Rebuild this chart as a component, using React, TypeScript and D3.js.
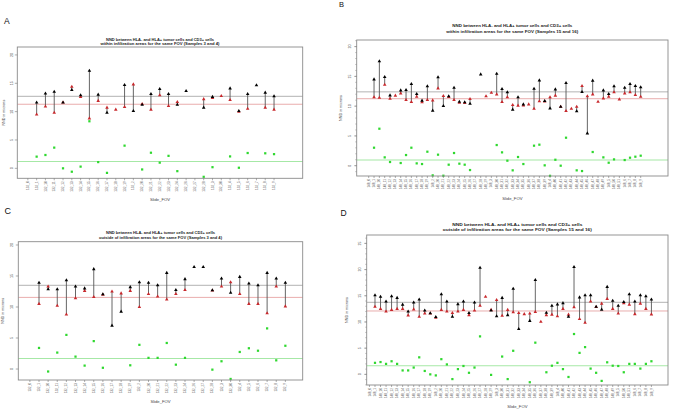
import React from "react";
import * as d3 from "d3";

const FONT = "'Liberation Sans', Arial, Helvetica, sans-serif";

// ---------- Panel A / C categories ----------
const labels132 = ["132_0","132_1","132_10","132_11","132_12","132_13","132_14","132_15","132_16","132_17","132_18","132_19","132_2","132_20","132_21","132_22","132_23","132_24","132_26","132_27","132_28","132_3","132_30","132_4","132_5","132_6","132_7","132_8","132_9"];

// ---------- Panel B / D categories ----------
const labels148 = ["148_0","148_1","148_10","148_11","148_12","148_13","148_14","148_15","148_16","148_17","148_18","148_19","148_2","148_20","148_21","148_22","148_23","148_24","148_25","148_26","148_27","148_28","148_29","148_3","148_30","148_31","148_32","148_33","148_34","148_35","148_36","148_37","148_38","148_39","148_4","148_40","148_41","148_42","148_43","148_44","148_45","148_46","148_47","148_48","148_49","148_5","148_50","148_51","148_6","148_7","148_8","148_9"];

// ---------- Panel A: within infiltration, samples 3 and 4 ----------
const hlaNegA = [null, 11.6, 13.2, 13.5, 11.6, 13.8, 12.9, 17.2, 13.0, 9.8, null, 14.7, 10.1, 11.2, 13.1, 14.0, 13.1, 11.2, 13.65, null, 10.7, 12.6, null, 14.1, 10.1, 13.1, 14.65, 13.35, 12.7];
const hlaPosA = [null, 9.5, 10.9, 9.8, 11.6, 14.4, 12.6, 8.8, 11.9, 10.7, 10.35, 10.8, 14.8, 11.35, 10.35, 12.9, 11.0, 11.7, null, null, 12.2, 12.4, 12.75, 12.05, 10.0, 10.5, null, 10.7, 10.35];
const diffA = [null, 2.06, 2.35, 3.65, 0.0, -0.6, 0.3, 8.3, 1.1, -0.8, null, 4.0, null, -0.2, 2.75, 1.0, 2.2, -0.5, null, null, -1.5, 0.2, null, 2.1, 0.1, 2.7, null, 2.65, 2.5];
const meansA = [12.7, 11.3, 1.2];

// ---------- Panel B: within infiltration, samples 15 and 16 ----------
const hlaNegB = [null, 14.5, 17.53, 14.89, 11.81, null, 12.65, 12.71, 13.72, 12.04, 10.92, 13.33, 9.24, 14.84, 10.02, 11.65, 13.1, 10.75, 10.64, 10.41, null, 15.34, null, null, 15.45, 12.88, 12.32, 9.41, 11.48, 10.3, null, 12.93, 14.33, 10.86, 9.63, 12.82, 9.91, 13.89, null, 9.13, 12.37, 5.43, 14.28, null, 12.65, 12.04, 13.33, null, 13.1, 13.72, 13.38, 13.16];
const hlaPosB = [null, 11.48, 11.42, 13.6, 11.25, 11.76, 12.15, 11.03, 10.69, 11.59, 10.64, 11.03, 10.97, 12.99, 11.7, 11.53, 11.03, 10.58, 10.53, 11.2, null, null, 11.65, 12.26, 11.98, 10.69, 11.48, 10.19, 10.08, 10.13, 10.3, 9.57, 10.81, 10.8, 11.48, 11.76, 9.9, 9.18, 9.57, 9.91, 13.38, 11.65, 11.98, 10.75, 11.31, 11.59, 12.32, 11.14, 12.15, 12.32, 11.87, 11.59];
const diffB = [null, 3.02, 6.21, 1.4, 0.62, null, 0.45, 1.79, 3.02, 0.39, 0.28, 2.35, -1.62, 1.85, -1.68, 0.17, 2.13, 0.34, 0.17, -0.73, null, null, null, null, 3.47, 2.24, 0.84, -0.78, 1.46, 0.28, null, 3.36, 3.53, 0.06, -1.7, 1.0, 0.0, 4.7, null, -0.78, -0.9, null, 2.3, null, 1.4, 0.5, 1.06, null, 0.95, 1.34, 1.51, 1.68];
const meansB = [12.4, 11.25, 0.95];

// ---------- Panel C: outside infiltration, samples 3 and 4 ----------
const hlaNegC = [null, 13.9, 12.85, 12.85, 14.3, 13.3, 13.0, 16.1, 12.05, 7.0, 9.25, 13.2, 14.0, 13.9, 13.5, 15.5, 12.75, 14.5, 16.45, 16.45, 12.7, 14.6, 12.3, 14.85, 13.8, 13.5, 15.5, 14.6, 13.9];
const hlaPosC = [null, 10.5, 13.3, 10.2, 8.8, 11.4, 12.6, 11.6, 12.0, 12.5, 12.2, 12.6, 10.0, 12.1, 11.7, 11.2, 12.1, 12.75, null, null, 12.65, 13.3, 14.0, 12.1, 10.5, 10.5, 9.0, 13.3, 10.1];
const diffC = [null, 3.4, -0.4, 2.65, 5.5, 2.0, 0.55, 4.5, 0.2, null, null, 0.6, 3.9, 1.8, 1.8, 4.2, 0.7, 1.8, null, null, -0.1, 1.25, -1.6, 2.75, 3.35, 2.95, 6.55, 1.4, 3.75];
const meansC = [13.5, 11.55, 1.7];

// ---------- Panel D: outside infiltration, samples 15 and 16 ----------
const hlaNegD = [null, 15.1, 14.8, 13.9, 14.9, 14.6, 13.3, 12.0, 13.7, 14.3, 12.2, 11.65, 10.95, 15.3, 13.9, 11.0, 13.4, 13.9, 11.7, 13.7, 20.35, null, 12.2, 11.1, 14.6, 11.3, 16.35, 8.65, null, 10.2, 18.0, null, 11.75, 13.1, 13.35, 13.6, 11.0, 20.5, 14.7, 15.1, 15.1, 12.9, 12.35, 16.7, 14.05, 13.1, 13.8, 15.3, 13.9, 15.1, 14.9, 14.3];
const hlaPosD = [null, 12.9, 12.5, 12.0, 12.3, 12.5, 12.5, 11.25, 12.4, 11.0, 11.6, 11.6, 10.8, 12.3, 12.0, 11.7, 12.0, 12.3, 11.3, 12.2, 13.1, 14.8, 12.3, 14.2, 11.2, 12.3, 11.85, 11.7, 11.5, 11.6, 11.9, 10.05, 11.3, 11.4, 11.1, 12.5, 11.4, 12.8, 10.55, 9.85, 13.9, 12.85, 13.5, 14.4, 12.5, 11.6, 13.6, 13.3, 11.5, 13.5, 12.5, 11.45];
const diffD = [null, 2.2, 2.35, 2.0, 2.5, 2.0, 0.75, 0.75, 1.3, 3.25, 0.65, 0.0, -0.2, 2.9, 1.9, -0.9, 1.0, 1.6, 0.3, 1.3, 7.25, null, -0.1, null, 3.4, -0.9, 4.5, null, null, -1.5, 6.05, null, 0.4, 1.65, 2.2, 1.0, -0.5, 7.7, 4.1, 5.2, 1.1, 0.3, -1.25, 2.3, 1.65, 1.6, 0.4, 2.0, 2.0, 1.1, 2.0, 2.5];
const meansD = [13.75, 12.1, 1.65];

const yTicks20 = [0, 5, 10, 15, 20];
const yTicks25 = [0, 5, 10, 15, 20, 25];

const titleLine1 = "NND between HLA- and HLA+ tumor cells and CD3+ cells";
const titleWithin34 = "within infiltration areas for the same FOV (Samples 3 and 4)";
const titleWithin1516 = "within infiltration areas for the same FOV (Samples 15 and 16)";
const titleOutside34 = "outside of infiltration areas for the same FOV (Samples 3 and 4)";
const titleOutside1516 = "outside of infiltration areas for the same FOV (Samples 15 and 16)";

type Num = number | null;

interface PanelProps {
  letter: string;
  letterX: number;
  letterY: number;
  letterSize: number;
  title: [string, string];
  titleY: [number, number];
  titleW: [number, number];
  titleSize: number;
  box: [number, number, number, number]; // x0, x1, y0(top), y1(bottom)
  yDomain: [number, number];
  xDomain: [number, number];
  labels: string[];
  neg: Num[];
  pos: Num[];
  diff: Num[];
  means: number[];
  yTicks: number[];
  minor: boolean;
  yTickLabelX: number;
  yLabelX: number;
  xLabelY: number;
}

const triangle = d3.symbol().type(d3.symbolTriangle).size(5.5)()!;
const square = d3.symbol().type(d3.symbolSquare).size(5)()!;

function Panel(p: PanelProps) {
  const [x0, x1, y0, y1] = p.box;
  const x = d3.scaleLinear().domain(p.xDomain).range([x0, x1]);
  const y = d3.scaleLinear().domain(p.yDomain).range([y1, y0]);
  const cx = (x0 + x1) / 2;
  const idx = d3.range(p.labels.length);
  const minorTicks = p.minor ? d3.range(Math.ceil(p.yDomain[0]), Math.floor(p.yDomain[1]) + 1) : [];
  const inY = (v: number) => v >= p.yDomain[0] && v <= p.yDomain[1];
  return (
    <g>
      <text x={p.letterX} y={p.letterY} fontSize={p.letterSize} fontFamily={FONT} fill="#111">{p.letter}</text>
      {p.title.map((t, k) => (
        <text key={k} x={cx} y={p.titleY[k]} fontSize={p.titleSize} fontWeight="bold" fontFamily={FONT}
          textAnchor="middle" fill="#222" textLength={p.titleW[k]} lengthAdjust="spacingAndGlyphs">{t}</text>
      ))}
      {/* mean lines */}
      <line x1={x0} x2={x1} y1={y(p.means[0])} y2={y(p.means[0])} stroke="#a0a0a0" strokeWidth={0.8} />
      <line x1={x0} x2={x1} y1={y(p.means[1])} y2={y(p.means[1])} stroke="#e6a4a4" strokeWidth={0.9} />
      <line x1={x0} x2={x1} y1={y(p.means[2])} y2={y(p.means[2])} stroke="#a6e8a6" strokeWidth={1.1} />
      {/* segments */}
      {idx.map((i) => {
        const a = p.neg[i];
        const b = p.pos[i];
        if (a == null || b == null) return null;
        return <line key={"s" + i} x1={x(i)} x2={x(i)} y1={y(a)} y2={y(b)} stroke="#555" strokeWidth={0.9} />;
      })}
      {/* markers */}
      {idx.map((i) => {
        const v = p.pos[i];
        if (v == null || !inY(v)) return null;
        return <path key={"r" + i} d={triangle} transform={`translate(${x(i)},${y(v)})`} fill="#c8282c" />;
      })}
      {idx.map((i) => {
        const v = p.neg[i];
        if (v == null || !inY(v)) return null;
        return <path key={"b" + i} d={triangle} transform={`translate(${x(i)},${y(v)})`} fill="#000" />;
      })}
      {idx.map((i) => {
        const v = p.diff[i];
        if (v == null || !inY(v)) return null;
        return <path key={"g" + i} d={square} transform={`translate(${x(i)},${y(v)})`} fill="#2fd82f" />;
      })}
      {/* box */}
      <rect x={x0} y={y0} width={x1 - x0} height={y1 - y0} fill="none" stroke="#8a8a8a" strokeWidth={0.9} />
      {/* y axis */}
      {minorTicks.map((t) => (
        <line key={"m" + t} x1={x0 - 1.5} x2={x0} y1={y(t)} y2={y(t)} stroke="#888" strokeWidth={0.5} />
      ))}
      {p.yTicks.map((t) => (
        <g key={"y" + t}>
          <line x1={x0 - 2.5} x2={x0} y1={y(t)} y2={y(t)} stroke="#777" strokeWidth={0.6} />
          <text transform={`translate(${p.yTickLabelX},${y(t)}) rotate(-90)`} fontSize={3.6} fontFamily={FONT}
            textAnchor="middle" fill="#444">{t}</text>
        </g>
      ))}
      <text transform={`translate(${p.yLabelX},${(y0 + y1) / 2}) rotate(-90)`} fontSize={3.7} fontFamily={FONT}
        textAnchor="middle" fill="#444">NND in microns</text>
      {/* x axis */}
      {idx.map((i) => (
        <g key={"x" + i}>
          <line x1={x(i)} x2={x(i)} y1={y1} y2={y1 + 2} stroke="#777" strokeWidth={0.6} />
          <text transform={`translate(${x(i) + 1.1},${y1 + 3}) rotate(-90)`} fontSize={3.1} fontFamily={FONT}
            textAnchor="end" fill="#555">{p.labels[i]}</text>
        </g>
      ))}
      <text x={cx} y={p.xLabelY} fontSize={4.2} fontFamily={FONT} textAnchor="middle" fill="#444">Slide_FOV</text>
    </g>
  );
}

export default function App() {
  return (
    <svg width={675} height={412} style={{ position: "absolute", left: 0, top: 0, background: "#fff" }}>
      <rect x={0} y={0} width={675} height={412} fill="#fff" />
      <Panel letter="A" letterX={4} letterY={23.5} letterSize={8.5}
        title={[titleLine1, titleWithin34]} titleY={[40.5, 45.3]} titleW={[108, 119]} titleSize={3.9}
        box={[17.3, 302.7, 47, 178.3]} yDomain={[-1.76, 21.4]} xDomain={[-1.2, 31.26]}
        labels={labels132} neg={hlaNegA} pos={hlaPosA} diff={diffA} means={meansA}
        yTicks={yTicks20} minor={false} yTickLabelX={12.5} yLabelX={5} xLabelY={200.5} />
      <Panel letter="B" letterX={339} letterY={7} letterSize={7.5}
        title={[titleLine1, titleWithin1516]} titleY={[27.3, 33.3]} titleW={[120, 132]} titleSize={4.2}
        box={[356.7, 668, 40, 176]} yDomain={[-1.73, 21.11]} xDomain={[-2.25, 56.12]}
        labels={labels148} neg={hlaNegB} pos={hlaPosB} diff={diffB} means={meansB}
        yTicks={yTicks20} minor={true} yTickLabelX={351} yLabelX={342} xLabelY={199.5} />
      <Panel letter="C" letterX={4.5} letterY={213.5} letterSize={9}
        title={[titleLine1, titleOutside34]} titleY={[233.8, 239.2]} titleW={[109, 123]} titleSize={3.9}
        box={[18.3, 302.7, 241.7, 380]} yDomain={[-1.77, 20.53]} xDomain={[-1.27, 29.9]}
        labels={labels132} neg={hlaNegC} pos={hlaPosC} diff={diffC} means={meansC}
        yTicks={yTicks20} minor={false} yTickLabelX={12.5} yLabelX={4} xLabelY={402.5} />
      <Panel letter="D" letterX={340.5} letterY={216.3} letterSize={8.5}
        title={[titleLine1, titleOutside1516]} titleY={[225.9, 231]} titleW={[130, 149]} titleSize={4.4}
        box={[366.7, 668, 235, 385]} yDomain={[-2.03, 26.6]} xDomain={[-0.5, 54]}
        labels={labels148} neg={hlaNegD} pos={hlaPosD} diff={diffD} means={meansD}
        yTicks={yTicks25} minor={true} yTickLabelX={361} yLabelX={348} xLabelY={408} />
    </svg>
  );
}
